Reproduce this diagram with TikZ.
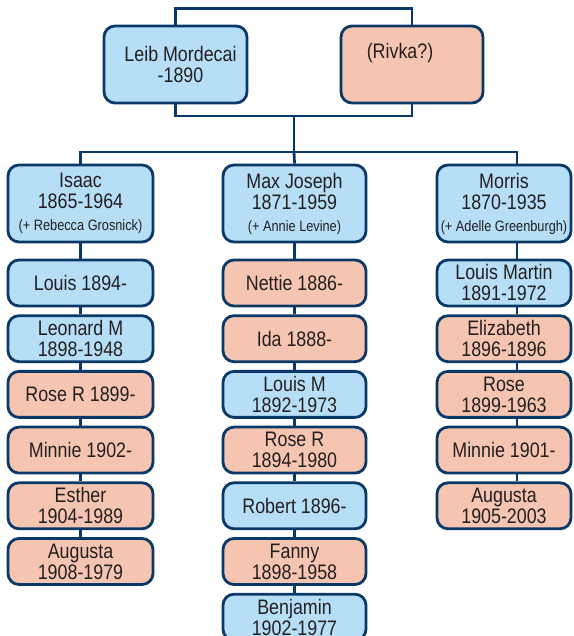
\documentclass[tikz,border=0pt]{standalone}
\usepackage{fontspec}
\setmainfont{Liberation Sans}[FakeStretch=0.85]
\usepackage{tikz}
\definecolor{sonblue}{HTML}{B7DEF7}
\definecolor{daughterpink}{HTML}{F6C5B1}
\definecolor{linenavy}{HTML}{0B3967}
\definecolor{inkgray}{HTML}{231F20}
\newcommand{\spousefont}{\fontsize{15}{17}\selectfont}

\begin{document}
\begin{tikzpicture}[
            x = 1pt, y = 1pt, % one unit per pixel of the chart
            node distance = 55.7pt, % distance between siblings
            color = linenavy, % line colour
            line width = 2.8pt % line style
        ]

        \tikzstyle{person}=[
            draw = linenavy,
            rectangle,
            rounded corners = 11pt,
            text = inkgray,
            align = center,
            inner sep = 0pt,
            minimum height = 46pt,
            font = \fontsize{21}{21}\selectfont
        ]
        \tikzstyle{son}=[person, fill = sonblue]
        \tikzstyle{daughter}=[person, fill = daughterpink]
        \tikzstyle{parent}=[minimum height = 77pt]
        \tikzstyle{isaaccol}=[minimum width = 145pt]
        \tikzstyle{maxcol}=[minimum width = 143pt]
        \tikzstyle{morriscol}=[minimum width = 134pt]

        \clip (0,0) rectangle (573,636);

        % the parents
        \node[son, parent, minimum width = 143pt] (leib) at (175.5,571.5) {\hspace*{10pt}Leib Mordecai\\\hspace*{10pt}-1890};
        \node[daughter, parent, minimum width = 142pt] (rivka) at (412,571.5) {(Rivka?)\hspace*{24pt}\\\strut};
        \coordinate (family) at (294,520);
        \coordinate (kids) at (294,484);

        % the three sons
        \node[son, parent, isaaccol] (isaac) at (80.5,432.5) {Isaac\\1865-1964\\[1pt]{\spousefont (+ Rebecca Grosnick)}};
        \node[son, parent, maxcol] (maxj) at (294.5,432.5) {Max Joseph\\1871-1959\\[1pt]{\spousefont (+ Annie Levine)}};
        \node[son, parent, morriscol] (morris) at (504,432.5) {Morris\\1870-1935\\[1pt]{\spousefont (+ Adelle Greenburgh)}};

        % children of Isaac
        \node[son, isaaccol] (louis) at (80.5,353) {Louis 1894-};
        \node[son, isaaccol] (leonard) [below of = louis] {Leonard M\\1898-1948};
        \node[daughter, isaaccol] (roser) [below of = leonard] {Rose R 1899-};
        \node[daughter, isaaccol] (minnie) [below of = roser] {Minnie 1902-};
        \node[daughter, isaaccol] (esther) [below of = minnie] {Esther\\1904-1989};
        \node[daughter, isaaccol] (augusta) [below of = esther] {Augusta\\1908-1979};

        % children of Max Joseph
        \node[daughter, maxcol] (nettie) at (294.5,353) {Nettie 1886-};
        \node[daughter, maxcol] (ida) [below of = nettie] {Ida 1888-};
        \node[son, maxcol] (louism) [below of = ida] {Louis M\\1892-1973};
        \node[daughter, maxcol] (roserm) [below of = louism] {Rose R\\1894-1980};
        \node[son, maxcol] (robert) [below of = roserm] {Robert 1896-};
        \node[daughter, maxcol] (fanny) [below of = robert] {Fanny\\1898-1958};
        \node[son, maxcol] (benjamin) [below of = fanny] {Benjamin\\1902-1977};

        % children of Morris
        \node[son, morriscol] (lmartin) at (504,353) {Louis Martin\\1891-1972};
        \node[daughter, morriscol] (elizabeth) [below of = lmartin] {Elizabeth\\1896-1896};
        \node[daughter, morriscol] (rose) [below of = elizabeth] {Rose\\1899-1963};
        \node[daughter, morriscol] (minniem) [below of = rose] {Minnie 1901-};
        \node[daughter, morriscol] (augustam) [below of = minniem] {Augusta\\1905-2003};

        \draw (leib.north) -- ++(0,16) -| (rivka.north);
        \draw (leib.south) |- (family) -| (rivka.south);
        \draw (family) -- (kids);
        \draw (isaac.north) |- (kids) -| ([xshift=13pt]morris.north);
        \draw (kids) -- (maxj.north);

        \draw (isaac.south) -- (louis.north) (louis.south) -- (leonard.north)
              (leonard.south) -- (roser.north) (roser.south) -- (minnie.north)
              (minnie.south) -- (esther.north) (esther.south) -- (augusta.north);
        \draw (maxj.south) -- (nettie.north) (nettie.south) -- (ida.north)
              (ida.south) -- (louism.north) (louism.south) -- (roserm.north)
              (roserm.south) -- (robert.north) (robert.south) -- (fanny.north)
              (fanny.south) -- (benjamin.north);
        \draw ([xshift=13pt]morris.south) -- ([xshift=13pt]lmartin.north)
              ([xshift=13pt]lmartin.south) -- ([xshift=13pt]elizabeth.north)
              ([xshift=13pt]elizabeth.south) -- ([xshift=13pt]rose.north)
              ([xshift=13pt]rose.south) -- ([xshift=13pt]minniem.north)
              ([xshift=13pt]minniem.south) -- ([xshift=13pt]augustam.north);
    \end{tikzpicture}
\end{document}
